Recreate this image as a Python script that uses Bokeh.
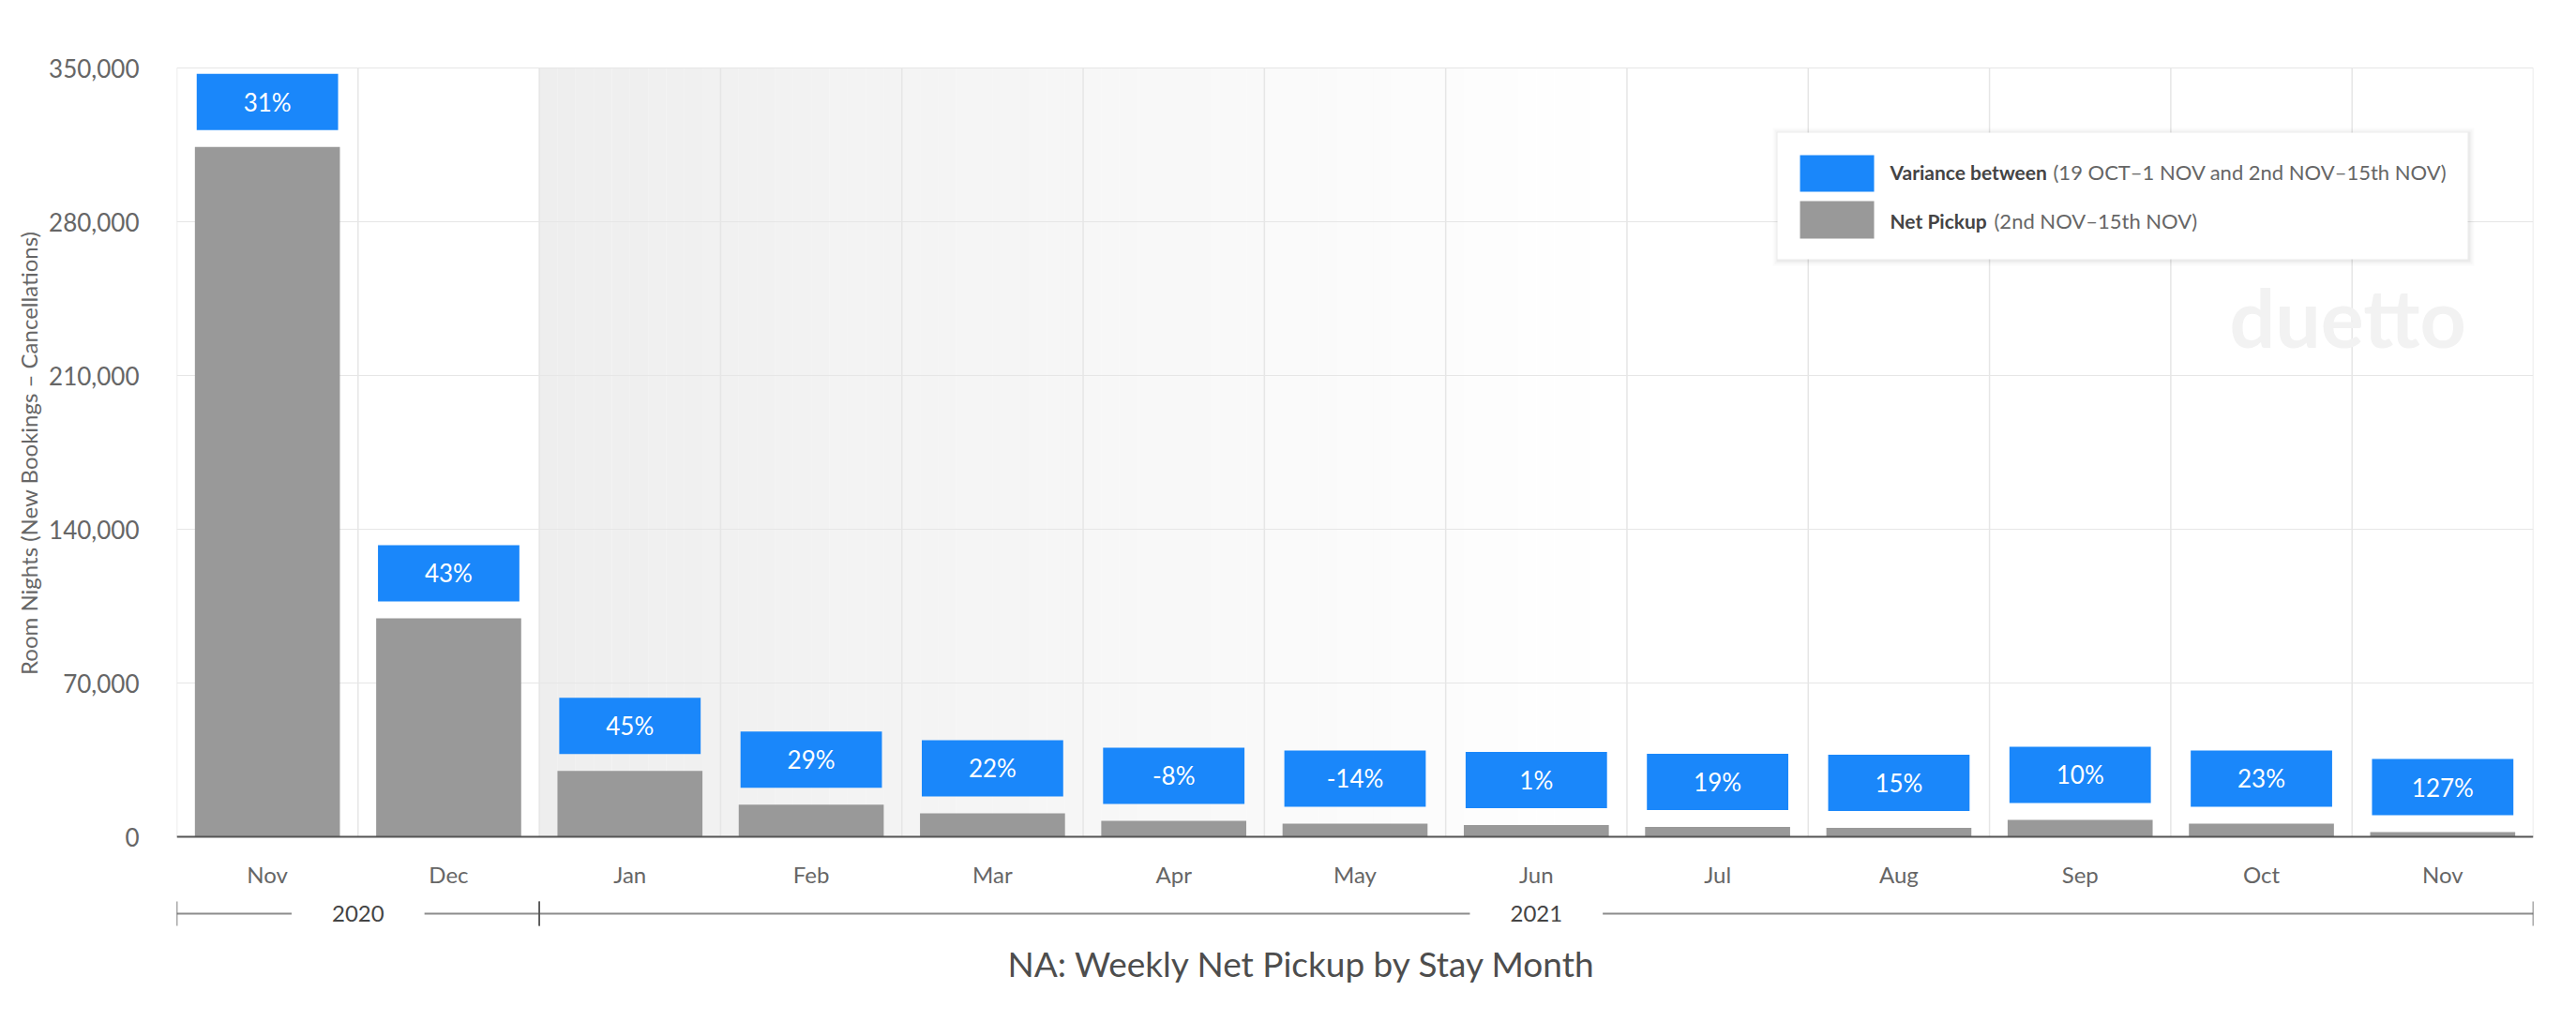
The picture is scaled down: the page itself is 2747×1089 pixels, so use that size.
import numpy as np
from bokeh.plotting import figure
from bokeh.models import (ColumnDataSource, FactorRange, Range1d, FixedTicker,
                          NumeralTickFormatter, Label, BoxAnnotation, Whisker,
                          TeeHead, Title, Span)
from bokeh.core.properties import value
from bokeh.embed import file_html
from bokeh.resources import INLINE

# data
years = ["2020", "2020", "2021", "2021", "2021", "2021", "2021",
         "2021", "2021", "2021", "2021", "2021", "2021"]
months = ["Nov", "Dec", "Jan", "Feb", "Mar", "Apr", "May",
          "Jun", "Jul", "Aug", "Sep", "Oct", "Nov"]
net_pickup = [314000, 99500, 30000, 14600, 10700, 7300, 6000,
              5300, 4500, 4100, 7700, 6000, 2100]
variance_pct = [31, 43, 45, 29, 22, -8, -14, 1, 19, 15, 10, 23, 127]
y_ticks = [0, 70000, 140000, 210000, 280000, 350000]

FONT = "Lato"
BLUE = "#1a87fa"
GREY = "#999999"
PLOT_W, PLOT_H = 2513, 820   # size of the value area
BELOW = 110                  # room under the zero line for month/year labels
Y_MAX = y_ticks[-1]


def px(n):
    # pixels -> y data units
    return n * Y_MAX / PLOT_H


def sy(n):
    # screen y measured from the zero line
    return n + BELOW


factors = list(zip(years, months))
x_range = FactorRange(*factors, factor_padding=0, group_padding=0,
                      subgroup_padding=0, range_padding=0)

p = figure(x_range=x_range, y_range=Range1d(-px(BELOW), Y_MAX + px(1)),
           frame_width=PLOT_W, frame_height=PLOT_H + BELOW + 1,
           min_border_left=188, min_border_right=30,
           min_border_top=71, min_border_bottom=71,
           output_backend="svg", toolbar_location=None)
p.background_fill_color = "white"
p.border_fill_color = "white"
p.outline_line_color = None
p.xaxis.visible = False
p.xgrid.visible = False

# shaded band fading out over the first months of 2021
i0 = factors.index(("2021", "Jan"))
i1 = factors.index(("2021", "Jul"))
edges = np.linspace(i0, i1, 61)
p.quad(left=edges[:-1], right=edges[1:], bottom=0, top=Y_MAX,
       fill_color="#eeeeee", fill_alpha=np.linspace(1, 0, 60),
       line_color=None, level="image")

# grid: horizontal lines at the y ticks, vertical lines between months
p.ygrid.ticker = FixedTicker(ticks=y_ticks)
p.ygrid.grid_line_color = "#e6e6e6"
bounds = list(range(len(factors) + 1))
p.segment(x0=bounds, y0=0, x1=bounds, y1=Y_MAX, line_color="#e6e6e6",
          line_width=1.5, level="underlay")

# watermark
p.add_layout(Label(x=2189, y=sy(555), x_units="screen", y_units="screen",
                   text="duetto", text_font=FONT, text_font_size="86px",
                   text_font_style="bold", text_color="#f2f2f2",
                   text_baseline="alphabetic", level="underlay"))

src = ColumnDataSource(dict(
    x=factors,
    month=months,
    month_y=[-px(40)] * len(months),
    pickup=net_pickup,
    label=[f"{v}%" for v in variance_pct],
    label_y=[v + px(48) for v in net_pickup],
))

p.vbar(x="x", top="pickup", width=0.8, fill_color=GREY, line_color=None, source=src)
p.rect(x="x", y="label_y", width=0.78, height=60, height_units="screen",
       fill_color=BLUE, line_color=None, source=src)
p.text(x="x", y="label_y", text="label", text_color="white",
       text_font=value(FONT), text_font_size="26px",
       text_align="center", text_baseline="middle", source=src)

# zero line and month labels
p.add_layout(Span(location=0, dimension="width", line_color="#555555", line_width=2))
p.text(x="x", y="month_y", text="month", text_color="#666666",
       text_font=value(FONT), text_font_size="24px",
       text_align="center", text_baseline="middle", source=src)

# y axis
p.yaxis.ticker = FixedTicker(ticks=y_ticks)
p.yaxis.bounds = (0, Y_MAX)
p.yaxis.formatter = NumeralTickFormatter(format="0,0")
p.yaxis.axis_line_color = None
p.yaxis.major_tick_line_color = None
p.yaxis.minor_tick_line_color = None
p.yaxis.major_tick_out = 0
p.yaxis.major_label_standoff = 40
p.yaxis.major_label_text_font = FONT
p.yaxis.major_label_text_font_size = "26px"
p.yaxis.major_label_text_color = "#666666"

# y axis title, kept centred on the value area (not on the label room below)
p.add_layout(Title(text="Room Nights (New Bookings \u2013 Cancellations)",
                   align="right", offset=175, text_font=FONT,
                   text_font_size="24px", text_font_style="normal",
                   text_color="#666666", standoff=10), "left")

# year brackets below the month labels
year_names = sorted(set(years))
lo = [years.index(y) for y in year_names]
hi = [len(years) - years[::-1].index(y) for y in year_names]
bracket_y = -px(82)
bsrc = ColumnDataSource(dict(base=[bracket_y] * len(year_names), lower=lo, upper=hi))
p.add_layout(Whisker(source=bsrc, base="base", lower="lower", upper="upper",
                     dimension="width", line_color="#8c8c8c", line_width=2,
                     lower_head=TeeHead(size=26, line_color="#555555", line_width=1.5),
                     upper_head=TeeHead(size=26, line_color="#555555", line_width=1.5)))
for name, a, b in zip(year_names, lo, hi):
    p.add_layout(Label(x=(a + b) / 2, y=bracket_y, text=name,
                       text_font=FONT, text_font_size="24px", text_color="#444444",
                       text_align="center", text_baseline="middle",
                       background_fill_color="white",
                       padding=dict(left=43, right=43, top=2, bottom=2)))

# legend drawn by hand (mixed weights in labels)
L, R, B, T = 1707, 2443, 616, 751
for grow, alpha in [(6, 0.015), (4, 0.025), (2, 0.04)]:
    p.add_layout(BoxAnnotation(left=L - grow + 1, right=R + grow + 1,
                               bottom=sy(B - grow - 1), top=sy(T + grow - 1),
                               left_units="screen", right_units="screen",
                               bottom_units="screen", top_units="screen",
                               fill_color="black", fill_alpha=alpha, line_color=None))
p.add_layout(BoxAnnotation(left=L, right=R, bottom=sy(B), top=sy(T),
                           left_units="screen", right_units="screen",
                           bottom_units="screen", top_units="screen",
                           fill_color="white", fill_alpha=1, line_color=None))
p.add_layout(BoxAnnotation(left=1731, right=1810, bottom=sy(688), top=sy(727),
                           left_units="screen", right_units="screen",
                           bottom_units="screen", top_units="screen",
                           fill_color=BLUE, fill_alpha=1, line_color=None))
p.add_layout(BoxAnnotation(left=1731, right=1810, bottom=sy(638), top=sy(678),
                           left_units="screen", right_units="screen",
                           bottom_units="screen", top_units="screen",
                           fill_color=GREY, fill_alpha=1, line_color=None))
legend_rows = [
    (709, "Variance between", 2001, "(19 OCT\u20131 NOV and 2nd NOV\u201315th NOV)"),
    (657, "Net Pickup", 1938, "(2nd NOV\u201315th NOV)"),
]
for ly, head, tx, tail in legend_rows:
    p.add_layout(Label(x=1827, y=sy(ly), x_units="screen", y_units="screen", text=head,
                       text_font=FONT, text_font_size="21px", text_font_style="bold",
                       text_color="#444444", text_baseline="middle"))
    p.add_layout(Label(x=tx, y=sy(ly), x_units="screen", y_units="screen", text=tail,
                       text_font=FONT, text_font_size="22px",
                       text_color="#666666", text_baseline="middle"))

p.add_layout(Title(text="NA: Weekly Net Pickup by Stay Month", align="left",
                   offset=886, text_font=FONT, text_font_size="37px",
                   text_font_style="normal", text_color="#4d4d4d",
                   standoff=0), "below")

open("out.html", "w").write(file_html(p, INLINE))
